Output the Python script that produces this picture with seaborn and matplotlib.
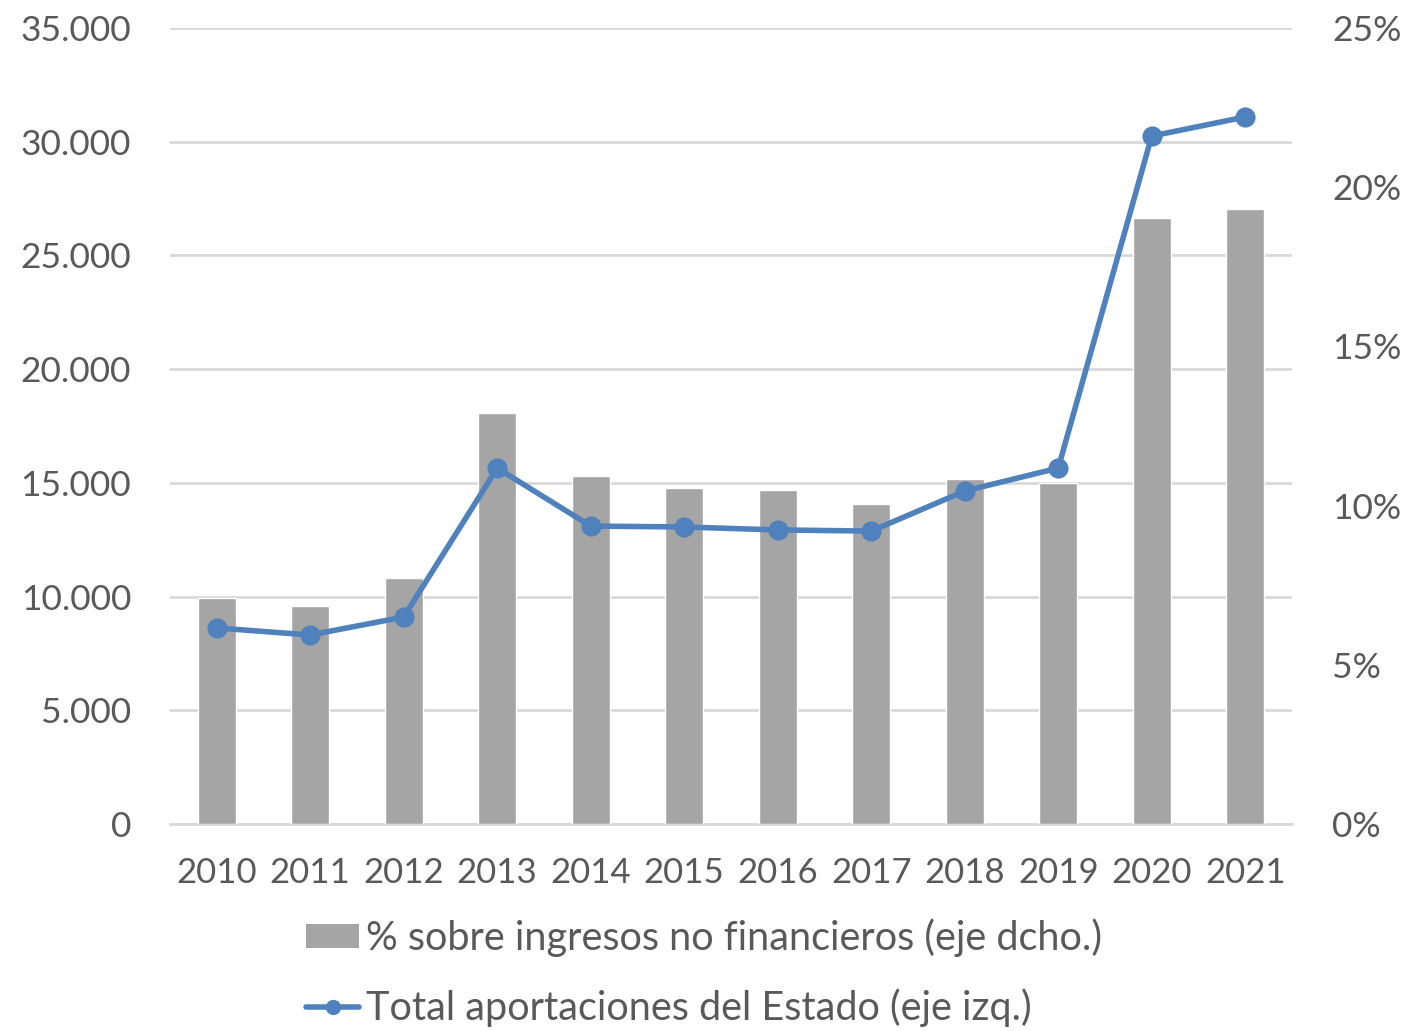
import matplotlib
matplotlib.use("Agg")
import matplotlib.pyplot as plt
import matplotlib.ticker as mticker
from matplotlib.patches import Patch
from matplotlib.lines import Line2D
import seaborn as sns

years = ["2010", "2011", "2012", "2013", "2014", "2015",
         "2016", "2017", "2018", "2019", "2020", "2021"]
# % over non-financial income (right axis)
pct_ingresos = [7.10, 6.85, 7.73, 12.91, 10.93, 10.55,
                10.49, 10.05, 10.84, 10.71, 19.03, 19.32]
# total state contributions (left axis)
aportaciones = [8620, 8310, 9100, 15650, 13100, 13060,
                12930, 12880, 14640, 15650, 30250, 31090]

bar_color = "#A5A5A5"
line_color = "#4F81BD"
text_color = "#595959"
grid_color = "#D9D9D9"

sns.set_style("white")
plt.rcParams['font.family'] = ['Lato', 'DejaVu Sans']

fig = plt.figure(figsize=(14.08, 10.31), dpi=100)
ax = fig.add_axes([0.1207, 0.2008, 0.7969, 0.772])
ax2 = ax.twinx()
ax3 = ax.twinx()

# left axis: grid + labels
ax.set_ylim(0, 35000)
ax.yaxis.set_major_locator(mticker.MultipleLocator(5000))
ax.yaxis.set_major_formatter(mticker.FuncFormatter(lambda v, p: f"{int(v):,}".replace(",", ".")))
ax.grid(axis="y", color=grid_color, linewidth=2)
ax.set_axisbelow(True)

# bars on right axis
sns.barplot(x=years, y=pct_ingresos, color=bar_color, width=0.41,
            saturation=1, ax=ax2, zorder=2)
ax2.set_ylim(0, 25)
ax2.yaxis.set_major_locator(mticker.MultipleLocator(5))
ax2.yaxis.set_major_formatter(mticker.FuncFormatter(lambda v, p: f"{int(v)}%"))

# line on left scale
sns.pointplot(x=years, y=aportaciones, color=line_color, ax=ax3,
              markersize=11.5, linewidth=4, zorder=3)
ax3.set_ylim(0, 35000)
ax3.set_yticks([])

for a in (ax, ax2, ax3):
    a.set_xlim(-0.5, 11.5)
    for s in a.spines.values():
        s.set_visible(False)
    a.set_xlabel("")
    a.set_ylabel("")
ax.spines["bottom"].set_visible(True)
ax.spines["bottom"].set_color(grid_color)
ax.spines["bottom"].set_linewidth(2)

ax.tick_params(axis="y", length=0, pad=28, labelsize=25.5, labelcolor=text_color)
ax.tick_params(axis="x", length=0, pad=24, labelsize=25, labelcolor=text_color)
ax2.tick_params(axis="y", length=0, pad=29, labelsize=25.5, labelcolor=text_color)
ax2.tick_params(axis="x", length=0, labelbottom=False)
ax3.tick_params(axis="x", length=0, labelbottom=False)
ax.set_xticks(range(len(years)))
ax.set_xticklabels(years)

handles = [Patch(facecolor=bar_color, edgecolor="none"),
           Line2D([0], [0], color=line_color, linewidth=4, marker="o", markersize=10)]
labels = ["% sobre ingresos no financieros (eje dcho.)",
          "Total aportaciones del Estado (eje izq.)"]
fig.legend(handles, labels, loc="lower center", bbox_to_anchor=(0.5, -0.031),
           frameon=False, fontsize=28.5, labelcolor=text_color,
           handlelength=1.35, handleheight=0.55, handletextpad=0.17, labelspacing=0.8)

fig.savefig("out.png", dpi=100)
